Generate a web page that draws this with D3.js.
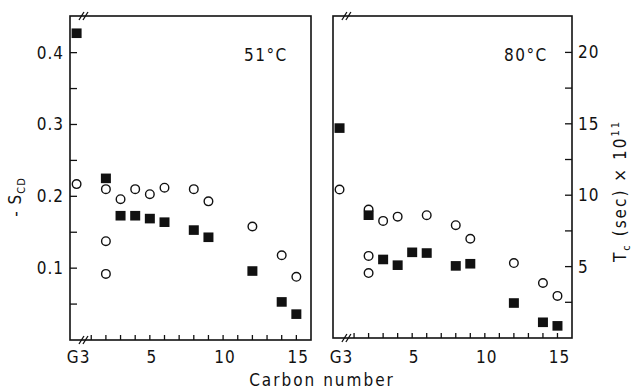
<!DOCTYPE html>
<html lang="en">
<head>
  <meta charset="UTF-8">
  <title>Order parameters and correlation times</title>
  <script src="https://cdn.jsdelivr.net/npm/d3@7/dist/d3.min.js"></script>
  <style>
    body { margin: 0; background: #fff; }
    text { font-family: "DejaVu Sans Condensed", "DejaVu Sans", sans-serif; fill: #111; }
  </style>
</head>
<body>
</body>
</html>
<script>
  let w = 634;
  let h = 392;

  // carbon positions (G3 is drawn at 0, left of the axis break)
  let xTicks = [1, 2, 3, 4, 5, 6, 7, 8, 9, 10, 11, 12, 13, 14, 15];
  let xLabels = [[0, "G3"], [5, "5"], [10, "10"], [15, "15"]];

  // 51°C : -S_CD (open circles) and T_c (filled squares)
  let scd51Pos = [0, 2, 2, 2, 3, 4, 5, 6, 8, 9, 12, 14, 15];
  let scd51 = [0.217, 0.21, 0.1375, 0.092, 0.196, 0.21, 0.203, 0.212, 0.21, 0.193, 0.158, 0.118, 0.088];
  let tc51Pos = [0, 2, 3, 4, 5, 6, 8, 9, 12, 14, 15];
  let tc51 = [21.35, 11.25, 8.65, 8.65, 8.45, 8.2, 7.65, 7.15, 4.8, 2.65, 1.8];

  // 80°C
  let scd80Pos = [0, 2, 2, 2, 3, 4, 6, 8, 9, 12, 14, 15];
  let scd80 = [0.208, 0.18, 0.115, 0.091, 0.164, 0.17, 0.172, 0.158, 0.139, 0.105, 0.077, 0.059];
  let tc80Pos = [0, 2, 3, 4, 5, 6, 8, 9, 12, 14, 15];
  let tc80 = [14.7, 8.6, 5.5, 5.1, 6.0, 5.95, 5.05, 5.2, 2.45, 1.1, 0.85];

  // axis ticks
  let scdTicks = [0.05, 0.1, 0.15, 0.2, 0.25, 0.3, 0.35, 0.4];
  let scdLabels = [0.1, 0.2, 0.3, 0.4];
  let tcTicks = [2.5, 5, 7.5, 10, 12.5, 15, 17.5, 20];
  let tcLabels = [5, 10, 15, 20];

  let svg = d3.select("body").append("svg").attr("width", w).attr("height", h)

  function panel(cfg) {
    let x = d3.scaleLinear().domain([-0.45, 16]).range([cfg.left, cfg.right]);
    let ys = d3.scaleLinear().domain([0, 0.451]).range([cfg.bottom, 16]);
    let yt = d3.scaleLinear().domain([0, 22.55]).range([cfg.bottom, 16]);
    let g = svg.append("g");

    //边框
    g.append("rect").attr("x", cfg.left).attr("y", 16)
      .attr("width", cfg.right - cfg.left).attr("height", cfg.bottom - 16)
      .attr("fill", "none").attr("stroke", "#111").attr("stroke-width", 1.6);

    //x 轴刻度
    g.selectAll(".xt").data(xTicks).enter().append("line")
      .attr("x1", d => x(d)).attr("x2", d => x(d))
      .attr("y1", cfg.bottom).attr("y2", cfg.bottom - 5)
      .attr("stroke", "#111").attr("stroke-width", 1.3);
    g.selectAll(".xl").data(xLabels).enter().append("text")
      .attr("x", d => x(d[0]) + 2).attr("y", 363)
      .attr("text-anchor", "middle").attr("font-size", "17px")
      .attr("letter-spacing", "1px").text(d => d[1]);

    //断轴标记
    [16, cfg.bottom].forEach(yy => {
      [0, 4].forEach(off => {
        let bx = x(0.3) + off;
        g.append("line").attr("x1", bx - 2).attr("y1", yy + 4)
          .attr("x2", bx + 3).attr("y2", yy - 4)
          .attr("stroke", "#111").attr("stroke-width", 1.3);
      });
    });

    //数据
    g.selectAll(".c").data(cfg.scd).enter().append("circle")
      .attr("cx", (d, i) => x(cfg.scdPos[i])).attr("cy", d => ys(d))
      .attr("r", 4.3).attr("fill", "#fff").attr("stroke", "#111").attr("stroke-width", 1.4);
    g.selectAll(".s").data(cfg.tc).enter().append("rect")
      .attr("x", (d, i) => x(cfg.tcPos[i]) - 5).attr("y", d => yt(d) - 4.8)
      .attr("width", 10).attr("height", 9.6).attr("fill", "#111");

    g.append("text").attr("x", cfg.tagX).attr("y", 61).attr("font-size", "17px")
      .attr("letter-spacing", "1.5px").text(cfg.tag);

    return { x: x, ys: ys, yt: yt };
  }

  let p1 = panel({ left: 70, right: 311, bottom: 340, scd: scd51, scdPos: scd51Pos, tc: tc51, tcPos: tc51Pos, tag: "51°C", tagX: 244 });
  let p2 = panel({ left: 333, right: 572, bottom: 338, scd: scd80, scdPos: scd80Pos, tc: tc80, tcPos: tc80Pos, tag: "80°C", tagX: 504 });

  //左轴
  svg.selectAll(".lt").data(scdTicks).enter().append("line")
    .attr("x1", 70).attr("x2", 77).attr("y1", d => p1.ys(d)).attr("y2", d => p1.ys(d))
    .attr("stroke", "#111").attr("stroke-width", 1.3);
  svg.selectAll(".ll").data(scdLabels).enter().append("text")
    .attr("x", 64).attr("y", d => p1.ys(d) + 6).attr("text-anchor", "end")
    .attr("font-size", "17px").attr("letter-spacing", "1px").text(d => d.toFixed(1));

  //右轴
  svg.selectAll(".rt").data(tcTicks).enter().append("line")
    .attr("x1", 565).attr("x2", 572).attr("y1", d => p2.yt(d)).attr("y2", d => p2.yt(d))
    .attr("stroke", "#111").attr("stroke-width", 1.3);
  svg.selectAll(".rl").data(tcLabels).enter().append("text")
    .attr("x", 578).attr("y", d => p2.yt(d) + 6)
    .attr("font-size", "17px").attr("letter-spacing", "1px").text(d => d);

  //轴标题
  let yl = svg.append("text").attr("transform", "translate(21,197) rotate(-90)")
    .attr("text-anchor", "middle").attr("font-size", "17px").attr("letter-spacing", "1px");
  yl.append("tspan").text("- S");
  yl.append("tspan").attr("font-size", "11px").attr("dy", 4).text("CD");

  let yr = svg.append("text").attr("transform", "translate(626,191) rotate(-90)")
    .attr("text-anchor", "middle").attr("font-size", "17px").attr("letter-spacing", "2px");
  yr.append("tspan").text("T");
  yr.append("tspan").attr("font-size", "11px").attr("dy", 4).text("c");
  yr.append("tspan").attr("dy", -4).text("  (sec) × 10");
  yr.append("tspan").attr("font-size", "11px").attr("dy", -7).text("11");

  svg.append("text").attr("x", 322).attr("y", 386).attr("text-anchor", "middle")
    .attr("font-size", "17px").attr("letter-spacing", "2px").text("Carbon number");
</script>
